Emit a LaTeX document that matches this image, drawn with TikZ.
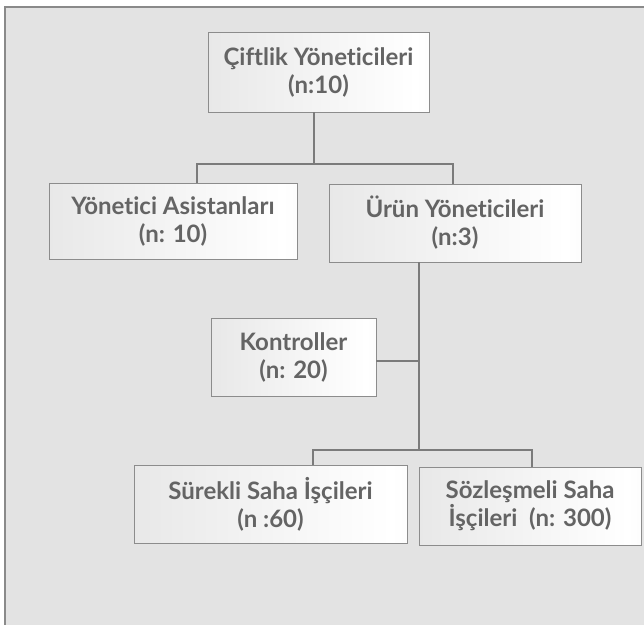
\documentclass[tikz,border=0pt]{standalone}
\usepackage{fontspec}
\setmainfont{Lato}[Ligatures=CommonOff]
\usetikzlibrary{calc}
\definecolor{panel}{HTML}{E3E3E3}
\definecolor{frame}{HTML}{8A8A8A}
\definecolor{edge}{HTML}{8C8C8C}
\definecolor{wire}{HTML}{7B7B7B}
\definecolor{ink}{HTML}{646464}
\definecolor{shadeL}{HTML}{DCDCDC}
\definecolor{shadeR}{HTML}{EAEAEA}
\pgfdeclarehorizontalshading{boxshade}{100bp}{color(0bp)=(shadeL); color(72bp)=(white); color(100bp)=(shadeR)}
\tikzset{box/.style={draw=edge,line width=0.8pt,shade,shading=boxshade,align=center,inner sep=3pt,text=ink,font=\bfseries\fontsize{24}{28}\selectfont},link/.style={draw=wire,line width=2.6pt}}

\begin{document}
\begin{tikzpicture}[x=1pt,y=-1pt]
\useasboundingbox (0,0) rectangle (644,624);
\fill[panel] (4,7) rectangle (650,630);
\draw[frame,line width=1.6pt] (4.8,630) -- (4.8,6.8) -- (650,6.8);
\node[box,minimum width=221pt,minimum height=80pt] (cift) at (318.5,72) {Çiftlik Yöneticileri\\(n:10)};
\node[box,minimum width=248pt,minimum height=76pt] (asst) at (173,221) {Yönetici Asistanları\\(n: 10)};
\node[box,minimum width=252pt,minimum height=78pt] (urun) at (455,223) {Ürün Yöneticileri\\(n:3)};
\node[box,minimum width=165pt,minimum height=78pt] (kont) at (293.5,357) {Kontroller\\(n: 20)};
\node[box,minimum width=273pt,minimum height=78pt] (sure) at (270.5,504) {Sürekli Saha İşçileri\\(n :60)};
\node[box,minimum width=222pt,minimum height=78pt] (sozl) at (530,506) {Sözleşmeli Saha\\İşçileri\ \ (n: 300)};
\coordinate (hubA) at (314,164);
\coordinate (hubB) at (419,450);
\coordinate (tapK) at ([yshift=-4pt]kont.east);
\draw[link]([xshift=-4.5pt]cift.south)--(hubA);
\draw[link]([xshift=24pt]asst.north)|-(hubA)-|([xshift=-2pt]urun.north);
\draw[link]([xshift=-36pt]urun.south)--(hubB);\draw[link](tapK)--(tapK-|hubB);
\draw[link]([xshift=42.5pt]sure.north)|-(hubB)-|([xshift=2pt]sozl.north);
\end{tikzpicture}
\end{document}
